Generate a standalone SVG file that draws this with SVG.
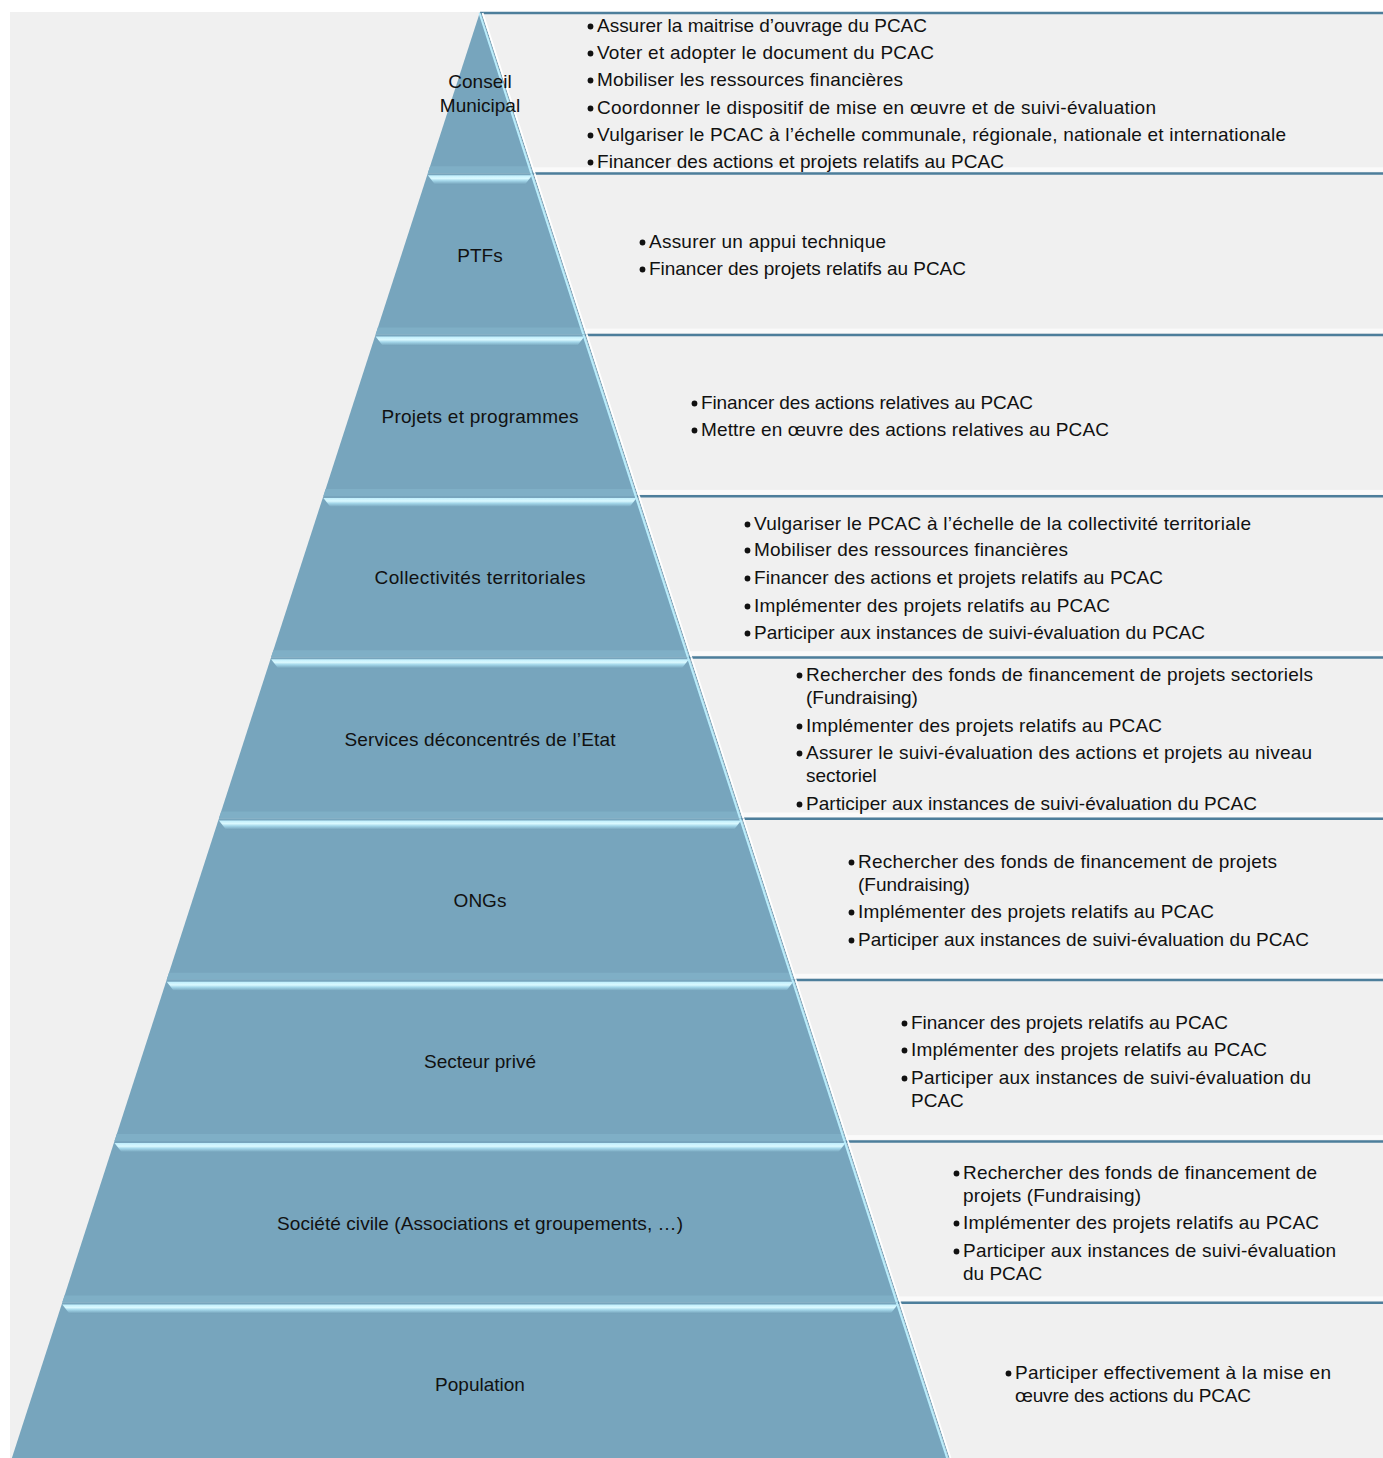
<svg xmlns="http://www.w3.org/2000/svg" width="1383" height="1458" viewBox="0 0 1383 1458">
<defs>
<linearGradient id="bev" x1="0" y1="0" x2="0" y2="1">
<stop offset="0" stop-color="#bfeefc"/>
<stop offset="0.35" stop-color="#daf9ff"/>
<stop offset="0.6" stop-color="#a4d7ea"/>
<stop offset="1" stop-color="#74a2ba"/>
</linearGradient>
<style>
.band{fill:#77a5bd}
.shade{fill:#7fafc6}
.bevel{fill:url(#bev)}
.ec{stroke:#b9ecfb;stroke-width:2}
.ed{stroke:#5d8ea8;stroke-width:0.9}
.ew{stroke:#ffffff;stroke-width:1.8}
.lbl{font-family:"Liberation Sans",Arial,sans-serif;font-size:19px;fill:#111;text-anchor:middle}
.itm{font-family:"Liberation Sans",Arial,sans-serif;font-size:19px;fill:#111}
.bul{fill:#111}
.sep{stroke:#4d7e9b;stroke-width:2.5}
.hl{fill:#fafafa}
</style>
</defs>
<rect x="0" y="0" width="1383" height="1458" fill="#ffffff"/>
<rect x="10" y="12" width="1373" height="1446" fill="#f0f0f0"/>

<g id="separators">
<line class="sep" x1="480" y1="13" x2="1383" y2="13"/>
<rect class="hl" x="533" y="167.3" width="850" height="4.5"/>
<line class="sep" x1="532.2" y1="173.6" x2="1383" y2="173.6"/>
<rect class="hl" x="585" y="328.6" width="798" height="4.5"/>
<line class="sep" x1="584.4" y1="334.9" x2="1383" y2="334.9"/>
<rect class="hl" x="637" y="489.9" width="746" height="4.5"/>
<line class="sep" x1="636.6" y1="496.2" x2="1383" y2="496.2"/>
<rect class="hl" x="689" y="651.2" width="694" height="4.5"/>
<line class="sep" x1="688.9" y1="657.5" x2="1383" y2="657.5"/>
<rect class="hl" x="741" y="812.5" width="642" height="4.5"/>
<line class="sep" x1="741.1" y1="818.8" x2="1383" y2="818.8"/>
<rect class="hl" x="793" y="973.8" width="590" height="4.5"/>
<line class="sep" x1="793.3" y1="980.1" x2="1383" y2="980.1"/>
<rect class="hl" x="845" y="1135.1" width="538" height="4.5"/>
<line class="sep" x1="845.5" y1="1141.4" x2="1383" y2="1141.4"/>
<rect class="hl" x="897" y="1296.4" width="486" height="4.5"/>
<line class="sep" x1="897.7" y1="1302.7" x2="1383" y2="1302.7"/>
</g>

<g id="band-conseil">
<polygon class="band" points="480,12 532.2,173.3 427.8,173.3"/>
<polygon class="shade" points="430.1,166.3 529.9,166.3 532.2,173.3 427.8,173.3"/>
<line class="ec" x1="479.5" y1="13" x2="531.2" y2="173.3"/><line class="ed" x1="481.2" y1="13" x2="533.2" y2="173.3"/><line class="ew" x1="482.6" y1="13" x2="534.6" y2="173.3"/>
<text class="lbl" x="480" y="88">Conseil</text>
<text class="lbl" x="480" y="112">Municipal</text>
<circle class="bul" cx="590.5" cy="26.5" r="2.9"/><text class="itm" x="597" y="32" textLength="330">Assurer la maitrise d’ouvrage du PCAC</text>
<circle class="bul" cx="590.5" cy="53.5" r="2.9"/><text class="itm" x="597" y="59" textLength="337">Voter et adopter le document du PCAC</text>
<circle class="bul" cx="590.5" cy="80.5" r="2.9"/><text class="itm" x="597" y="86" textLength="306">Mobiliser les ressources financières</text>
<circle class="bul" cx="590.5" cy="108.5" r="2.9"/><text class="itm" x="597" y="114" textLength="559">Coordonner le dispositif de mise en œuvre et de suivi-évaluation</text>
<circle class="bul" cx="590.5" cy="135.5" r="2.9"/><text class="itm" x="597" y="141" textLength="689">Vulgariser le PCAC à l’échelle communale, régionale, nationale et internationale</text>
<circle class="bul" cx="590.5" cy="162.5" r="2.9"/><text class="itm" x="597" y="168" textLength="407">Financer des actions et projets relatifs au PCAC</text>
</g>

<g id="band-ptfs">
<polygon class="band" points="427.8,173.3 532.2,173.3 584.4,334.6 375.6,334.6"/>
<polygon class="bevel" points="427.8,175.3 532.2,175.3 525.2,184.3 434.8,184.3"/>
<polygon class="shade" points="377.9,327.6 582.1,327.6 584.4,334.6 375.6,334.6"/>
<line class="ec" x1="531.2" y1="173.3" x2="583.4" y2="334.6"/><line class="ed" x1="533.2" y1="173.3" x2="585.4" y2="334.6"/><line class="ew" x1="534.6" y1="173.3" x2="586.8" y2="334.6"/>
<text class="lbl" x="480" y="262">PTFs</text>
<circle class="bul" cx="642.5" cy="242.5" r="2.9"/><text class="itm" x="649" y="248" textLength="237">Assurer un appui technique</text>
<circle class="bul" cx="642.5" cy="269.5" r="2.9"/><text class="itm" x="649" y="275" textLength="317">Financer des projets relatifs au PCAC</text>
</g>

<g id="band-projets">
<polygon class="band" points="375.6,334.6 584.4,334.6 636.6,495.9 323.4,495.9"/>
<polygon class="bevel" points="375.6,336.6 584.4,336.6 577.4,345.6 382.6,345.6"/>
<polygon class="shade" points="325.7,488.9 634.3,488.9 636.6,495.9 323.4,495.9"/>
<line class="ec" x1="583.4" y1="334.6" x2="635.6" y2="495.9"/><line class="ed" x1="585.4" y1="334.6" x2="637.6" y2="495.9"/><line class="ew" x1="586.8" y1="334.6" x2="639" y2="495.9"/>
<text class="lbl" x="480" y="423" textLength="197">Projets et programmes</text>
<circle class="bul" cx="694.5" cy="403.5" r="2.9"/><text class="itm" x="701" y="409" textLength="332">Financer des actions relatives au PCAC</text>
<circle class="bul" cx="694.5" cy="430.5" r="2.9"/><text class="itm" x="701" y="436" textLength="408">Mettre en œuvre des actions relatives au PCAC</text>
</g>

<g id="band-collectivites">
<polygon class="band" points="323.4,495.9 636.6,495.9 688.9,657.2 271.1,657.2"/>
<polygon class="bevel" points="323.4,497.9 636.6,497.9 629.6,506.9 330.4,506.9"/>
<polygon class="shade" points="273.4,650.2 686.6,650.2 688.9,657.2 271.1,657.2"/>
<line class="ec" x1="635.6" y1="495.9" x2="687.9" y2="657.2"/><line class="ed" x1="637.6" y1="495.9" x2="689.9" y2="657.2"/><line class="ew" x1="639" y1="495.9" x2="691.3" y2="657.2"/>
<text class="lbl" x="480" y="584" textLength="211">Collectivités territoriales</text>
<circle class="bul" cx="747.5" cy="524.5" r="2.9"/><text class="itm" x="754" y="530" textLength="497">Vulgariser le PCAC à l’échelle de la collectivité territoriale</text>
<circle class="bul" cx="747.5" cy="550.5" r="2.9"/><text class="itm" x="754" y="556" textLength="314">Mobiliser des ressources financières</text>
<circle class="bul" cx="747.5" cy="578.5" r="2.9"/><text class="itm" x="754" y="584" textLength="409">Financer des actions et projets relatifs au PCAC</text>
<circle class="bul" cx="747.5" cy="606.5" r="2.9"/><text class="itm" x="754" y="612" textLength="356">Implémenter des projets relatifs au PCAC</text>
<circle class="bul" cx="747.5" cy="633.5" r="2.9"/><text class="itm" x="754" y="639" textLength="451">Participer aux instances de suivi-évaluation du PCAC</text>
</g>

<g id="band-services">
<polygon class="band" points="271.1,657.2 688.9,657.2 741.1,818.5 218.9,818.5"/>
<polygon class="bevel" points="271.1,659.2 688.9,659.2 681.9,668.2 278.1,668.2"/>
<polygon class="shade" points="221.2,811.5 738.8,811.5 741.1,818.5 218.9,818.5"/>
<line class="ec" x1="687.9" y1="657.2" x2="740.1" y2="818.5"/><line class="ed" x1="689.9" y1="657.2" x2="742.1" y2="818.5"/><line class="ew" x1="691.3" y1="657.2" x2="743.5" y2="818.5"/>
<text class="lbl" x="480" y="746" textLength="271">Services déconcentrés de l’Etat</text>
<circle class="bul" cx="799.5" cy="675.5" r="2.9"/><text class="itm" x="806" y="681" textLength="507">Rechercher des fonds de financement de projets sectoriels</text>
<text class="itm" x="806" y="704">(Fundraising)</text>
<circle class="bul" cx="799.5" cy="726.5" r="2.9"/><text class="itm" x="806" y="732" textLength="356">Implémenter des projets relatifs au PCAC</text>
<circle class="bul" cx="799.5" cy="753.5" r="2.9"/><text class="itm" x="806" y="759" textLength="506">Assurer le suivi-évaluation des actions et projets au niveau</text>
<text class="itm" x="806" y="782">sectoriel</text>
<circle class="bul" cx="799.5" cy="804.5" r="2.9"/><text class="itm" x="806" y="810" textLength="451">Participer aux instances de suivi-évaluation du PCAC</text>
</g>

<g id="band-ongs">
<polygon class="band" points="218.9,818.5 741.1,818.5 793.3,979.8 166.7,979.8"/>
<polygon class="bevel" points="218.9,820.5 741.1,820.5 734.1,829.5 225.9,829.5"/>
<polygon class="shade" points="169,972.8 791,972.8 793.3,979.8 166.7,979.8"/>
<line class="ec" x1="740.1" y1="818.5" x2="792.3" y2="979.8"/><line class="ed" x1="742.1" y1="818.5" x2="794.3" y2="979.8"/><line class="ew" x1="743.5" y1="818.5" x2="795.7" y2="979.8"/>
<text class="lbl" x="480" y="907">ONGs</text>
<circle class="bul" cx="851.5" cy="862.5" r="2.9"/><text class="itm" x="858" y="868" textLength="419">Rechercher des fonds de financement de projets</text>
<text class="itm" x="858" y="891">(Fundraising)</text>
<circle class="bul" cx="851.5" cy="912.5" r="2.9"/><text class="itm" x="858" y="918" textLength="356">Implémenter des projets relatifs au PCAC</text>
<circle class="bul" cx="851.5" cy="940.5" r="2.9"/><text class="itm" x="858" y="946" textLength="451">Participer aux instances de suivi-évaluation du PCAC</text>
</g>

<g id="band-prive">
<polygon class="band" points="166.7,979.8 793.3,979.8 845.5,1141.1 114.5,1141.1"/>
<polygon class="bevel" points="166.7,981.8 793.3,981.8 786.3,990.8 173.7,990.8"/>
<polygon class="shade" points="116.8,1134.1 843.2,1134.1 845.5,1141.1 114.5,1141.1"/>
<line class="ec" x1="792.3" y1="979.8" x2="844.5" y2="1141.1"/><line class="ed" x1="794.3" y1="979.8" x2="846.5" y2="1141.1"/><line class="ew" x1="795.7" y1="979.8" x2="847.9" y2="1141.1"/>
<text class="lbl" x="480" y="1068">Secteur privé</text>
<circle class="bul" cx="904.5" cy="1023.5" r="2.9"/><text class="itm" x="911" y="1029" textLength="317">Financer des projets relatifs au PCAC</text>
<circle class="bul" cx="904.5" cy="1050.5" r="2.9"/><text class="itm" x="911" y="1056" textLength="356">Implémenter des projets relatifs au PCAC</text>
<circle class="bul" cx="904.5" cy="1078.5" r="2.9"/><text class="itm" x="911" y="1084" textLength="400">Participer aux instances de suivi-évaluation du</text>
<text class="itm" x="911" y="1107">PCAC</text>
</g>

<g id="band-societe-civile">
<polygon class="band" points="114.5,1141.1 845.5,1141.1 897.7,1302.4 62.3,1302.4"/>
<polygon class="bevel" points="114.5,1143.1 845.5,1143.1 838.5,1152.1 121.5,1152.1"/>
<polygon class="shade" points="64.6,1295.4 895.4,1295.4 897.7,1302.4 62.3,1302.4"/>
<line class="ec" x1="844.5" y1="1141.1" x2="896.7" y2="1302.4"/><line class="ed" x1="846.5" y1="1141.1" x2="898.7" y2="1302.4"/><line class="ew" x1="847.9" y1="1141.1" x2="900.1" y2="1302.4"/>
<text class="lbl" x="480" y="1230" textLength="406">Société civile (Associations et groupements, …)</text>
<circle class="bul" cx="956.5" cy="1173.5" r="2.9"/><text class="itm" x="963" y="1179" textLength="354">Rechercher des fonds de financement de</text>
<text class="itm" x="963" y="1202" textLength="178">projets (Fundraising)</text>
<circle class="bul" cx="956.5" cy="1223.5" r="2.9"/><text class="itm" x="963" y="1229" textLength="356">Implémenter des projets relatifs au PCAC</text>
<circle class="bul" cx="956.5" cy="1251.5" r="2.9"/><text class="itm" x="963" y="1257" textLength="373">Participer aux instances de suivi-évaluation</text>
<text class="itm" x="963" y="1280">du PCAC</text>
</g>

<g id="band-population">
<polygon class="band" points="62.3,1302.4 897.7,1302.4 948.1,1458 11.9,1458"/>
<polygon class="bevel" points="62.3,1304.4 897.7,1304.4 890.7,1313.4 69.3,1313.4"/>
<line class="ec" x1="896.7" y1="1302.4" x2="947.1" y2="1458"/><line class="ed" x1="898.7" y1="1302.4" x2="949.1" y2="1458"/><line class="ew" x1="900.1" y1="1302.4" x2="950.5" y2="1458"/>
<text class="lbl" x="480" y="1391">Population</text>
<circle class="bul" cx="1008.5" cy="1373.5" r="2.9"/><text class="itm" x="1015" y="1379" textLength="316">Participer effectivement à la mise en</text>
<text class="itm" x="1015" y="1402" textLength="236">œuvre des actions du PCAC</text>
</g>
</svg>
